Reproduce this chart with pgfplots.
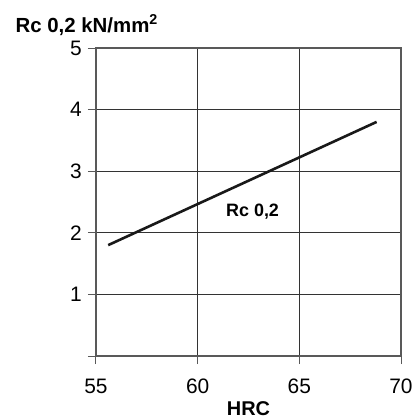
\documentclass[border=0pt]{standalone}
\usepackage{fontspec}
\setmainfont{Liberation Sans}
\usepackage{pgfplots}
\pgfplotsset{compat=1.18}
\begin{document}
\begin{tikzpicture}
\begin{axis}[name=ax, scale only axis, width=305bp, height=308bp,
  xmin=55, xmax=70, ymin=0, ymax=5,
  xtick={55,60,65,70}, ytick={0,1,2,3,4,5}, yticklabels={,1,2,3,4,5},
  tick pos=left, tick align=outside, major tick length=8bp,
  grid=major, grid style={black!80, line width=0.8bp},
  axis line style={black!65, line width=1.3bp},
  tick style={black!65, line width=1bp},
  ticklabel style={font=\fontsize{21}{24}\selectfont},
  yticklabel style={inner sep=2bp, xshift=-4bp},
  xticklabel style={anchor=base, yshift=-29bp, inner sep=0pt},
  /pgf/number format/assume math mode=true,
  xlabel={HRC},
  every axis x label/.style={at={(rel axis cs:0.5,0)}, anchor=base, yshift=-59bp, font=\bfseries\fontsize{20}{24}\selectfont},
  ylabel={Rc 0,2 kN/mm\textsuperscript{2}},
  every axis y label/.style={at={(rel axis cs:0,1)}, anchor=base west, xshift=-84bp, yshift=16bp, font=\bfseries\fontsize{20.5}{24}\selectfont},
]
\addplot[black!90, line width=2.6bp] coordinates {(55.6,1.8) (68.8,3.8)};
\node[font=\bfseries\fontsize{18}{20}\selectfont] at (axis cs:62.7,2.35) {Rc 0,2};
\end{axis}
\pgfresetboundingbox
\path ([shift={(-96bp,-64bp)}]ax.south west) rectangle ([shift={(13bp,48bp)}]ax.north east);
\end{tikzpicture}
\end{document}
